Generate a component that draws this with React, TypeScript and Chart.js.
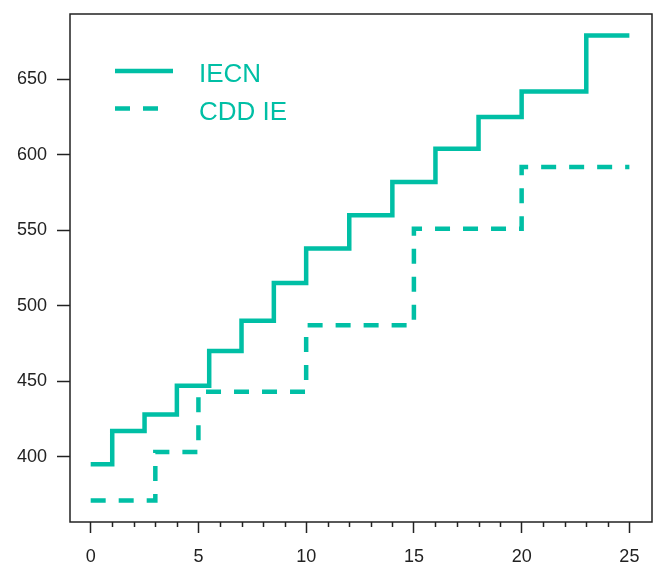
import React, { useEffect, useRef } from "react";
import { Chart, registerables } from "chart.js";

Chart.register(...registerables);

// ---- data ----
const iecnX = [0, 1, 2.5, 4, 5.5, 7, 8.5, 10, 12, 14, 16, 18, 20, 23, 25];
const iecnY = [395, 417, 428, 447, 470, 490, 515, 538, 560, 582, 604, 625, 642, 679, 679];
const cddX = [0, 3, 5, 10, 15, 20, 25];
const cddY = [371, 403, 443, 487, 551, 592, 592];
const seriesNames = ["IECN", "CDD IE"];
const xTickValues = [0, 1, 2, 3, 4, 5, 6, 7, 8, 9, 10, 11, 12, 13, 14, 15, 16, 17, 18, 19, 20, 21, 22, 23, 24, 25];
const yTickValues = [400, 450, 500, 550, 600, 650];

const TEAL = "#00BFA5";
const AXIS = "#222222";
const FONT = "'Liberation Sans', Arial, sans-serif";

const framePlugin = {
  id: "frameAndLegend",
  afterDraw(chart: any) {
    const { ctx, chartArea } = chart;
    const xs = chart.scales.x;
    ctx.save();
    // box
    ctx.strokeStyle = AXIS;
    ctx.lineWidth = 1.5;
    ctx.strokeRect(chartArea.left, chartArea.top, chartArea.right - chartArea.left, chartArea.bottom - chartArea.top);
    // minor x ticks
    ctx.lineWidth = 1.5;
    xs.ticks.forEach((t: any) => {
      if (t.value % 5 !== 0) {
        const px = Math.round(xs.getPixelForValue(t.value)) + 0.5;
        ctx.beginPath();
        ctx.moveTo(px, chartArea.bottom);
        ctx.lineTo(px, chartArea.bottom + 5);
        ctx.stroke();
      }
    });
    // legend
    const lx = chartArea.left + 45;
    const ly = chartArea.top + 57;
    chart.data.datasets.forEach((ds: any, i: number) => {
      const y = ly + i * 37.6;
      ctx.strokeStyle = ds.borderColor;
      ctx.lineWidth = ds.borderWidth;
      ctx.setLineDash(ds.borderDash || []);
      ctx.lineCap = "butt";
      ctx.beginPath();
      ctx.moveTo(lx, y);
      ctx.lineTo(lx + (ds.borderDash && ds.borderDash.length ? 43 : 58), y);
      ctx.stroke();
      ctx.setLineDash([]);
      ctx.fillStyle = ds.borderColor;
      ctx.font = `26px ${FONT}`;
      ctx.textBaseline = "alphabetic";
      ctx.textAlign = "left";
      ctx.fillText(ds.label, lx + 84, y + 11);
    });
    ctx.restore();
  },
};

export default function App() {
  const ref = useRef<HTMLCanvasElement>(null);
  useEffect(() => {
    if (!ref.current) return;
    const chart = new Chart(ref.current, {
      type: "line",
      data: {
        datasets: [
          {
            label: seriesNames[0],
            data: iecnX.map((x, i) => ({ x, y: iecnY[i] })),
            borderColor: TEAL,
            borderWidth: 4.5,
            stepped: true,
            pointRadius: 0,
            fill: false,
            borderJoinStyle: "miter",
            borderCapStyle: "butt",
          },
          {
            label: seriesNames[1],
            data: cddX.map((x, i) => ({ x, y: cddY[i] })),
            borderColor: TEAL,
            borderWidth: 4.5,
            borderDash: [15, 13],
            stepped: true,
            pointRadius: 0,
            fill: false,
            borderJoinStyle: "miter",
            borderCapStyle: "butt",
          },
        ],
      },
      options: {
        responsive: false,
        animation: false,
        layout: { padding: { top: 14, right: 10, left: 0, bottom: 0 } },
        plugins: { legend: { display: false }, tooltip: { enabled: false } },
        scales: {
          x: {
            type: "linear",
            min: -0.96,
            max: 26.05,
            afterBuildTicks: (s: any) => {
              s.ticks = xTickValues.map((v) => ({ value: v }));
            },
            afterFit: (s: any) => {
              s.height = 47;
              s.paddingLeft = 0;
              s.paddingRight = 0;
            },
            border: { display: false },
            grid: {
              drawOnChartArea: false,
              drawTicks: true,
              tickLength: 11,
              tickWidth: 1.5,
              tickColor: (c: any) => (c.tick && c.tick.value % 5 === 0 ? AXIS : "rgba(0,0,0,0)"),
            },
            ticks: {
              autoSkip: false,
              maxRotation: 0,
              padding: 13,
              color: AXIS,
              font: { size: 18, family: FONT },
              callback: (v: any) => (Number(v) % 5 === 0 ? String(v) : ""),
            },
          },
          y: {
            type: "linear",
            min: 356.7,
            max: 693.3,
            afterBuildTicks: (s: any) => {
              s.ticks = yTickValues.map((v) => ({ value: v }));
            },
            afterFit: (s: any) => {
              s.width = 70;
              s.paddingTop = 0;
              s.paddingBottom = 0;
            },
            border: { display: false },
            grid: {
              drawOnChartArea: false,
              drawTicks: true,
              tickLength: 13,
              tickWidth: 1.5,
              tickColor: AXIS,
            },
            ticks: {
              padding: 10,
              color: AXIS,
              font: { size: 18, family: FONT },
            },
          },
        },
      },
      plugins: [framePlugin],
    });
    return () => chart.destroy();
  }, []);
  return (
    <div style={{ position: "fixed", left: 0, top: 0, width: 662, height: 569, background: "#fff" }}>
      <canvas ref={ref} width={662} height={569} style={{ display: "block" }} />
    </div>
  );
}
